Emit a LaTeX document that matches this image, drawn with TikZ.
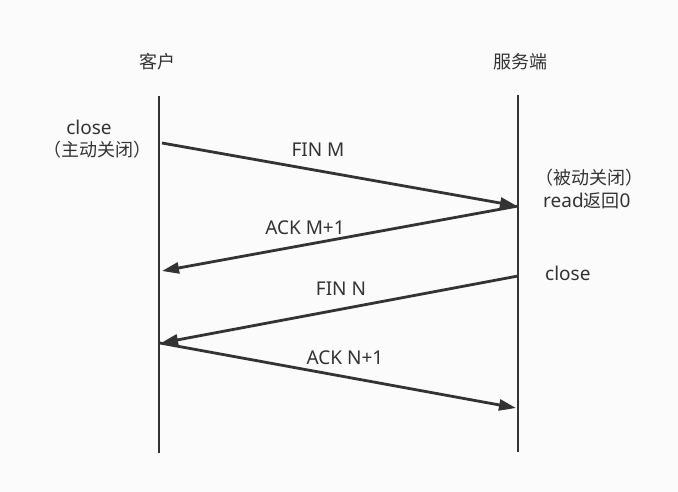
\documentclass[tikz,border=0pt]{standalone}
\usepackage{fontspec}
\setmainfont{Noto Sans}
\newfontfamily\cjk{Noto Sans CJK SC}
\usetikzlibrary{arrows.meta}
\definecolor{ink}{HTML}{333333}
\definecolor{bg}{HTML}{FBFBFB}
\newcommand\zh[1]{{\fontsize{18}{21}\selectfont\cjk #1}}
\tikzset{
  lifeline/.style={draw=ink, line width=2.8pt},
  msg/.style={draw=ink, line width=2.8pt, -{Triangle[length=17pt,width=11pt]}},
  lbl/.style={text=ink, font=\fontsize{19}{21}\selectfont, inner sep=0pt},
}
\begin{document}
\begin{tikzpicture}[x=1pt,y=-1pt]
\fill[bg] (0,0) rectangle (678,492);
\useasboundingbox (0,0) rectangle (678,492);
% lifelines
\coordinate (ltop) at (159,96);
\coordinate (lbot) at (159,453);
\coordinate (rtop) at (518,95);
\coordinate (rbot) at (518,452);
\draw[lifeline] (ltop) -- (lbot);
\draw[lifeline] (rtop) -- (rbot);
% headers
\node[lbl] (client) at (157,62) {\zh{客户}};
\node[lbl] (server) at (520,62) {\zh{服务端}};
% side notes
\node[lbl] (lclose) at (89,127) {close};
\node[lbl] (lactive) at (97,150) {\zh{（主动关闭）}};
\node[lbl, anchor=west] (rpassive) at (535,178) {\zh{（被动关闭）}};
\node[lbl, anchor=west] (rread) at (543,201) {read\zh{返回}0};
\node[lbl, anchor=west] (rclose) at (545,273) {close};
% message points
\coordinate (a1) at (162,143);
\coordinate (b1) at (517,206);
\coordinate (b2) at (518,206);
\coordinate (a2) at (162,271);
\coordinate (b3) at (518,276);
\coordinate (a3) at (161,343);
\coordinate (a4) at (160,343);
\coordinate (b4) at (516,408);
\draw[msg] (a1) -- (b1);
\draw[msg] (b2) -- (a2);
\draw[msg] (b3) -- (a3);
\draw[msg] (a4) -- (b4);
% message labels
\node[lbl] (m1) at (318,150) {FIN M};
\node[lbl] (m2) at (305,228) {ACK M+1};
\node[lbl] (m3) at (341,289) {FIN N};
\node[lbl] (m4) at (345,358) {ACK N+1};
\end{tikzpicture}
\end{document}
